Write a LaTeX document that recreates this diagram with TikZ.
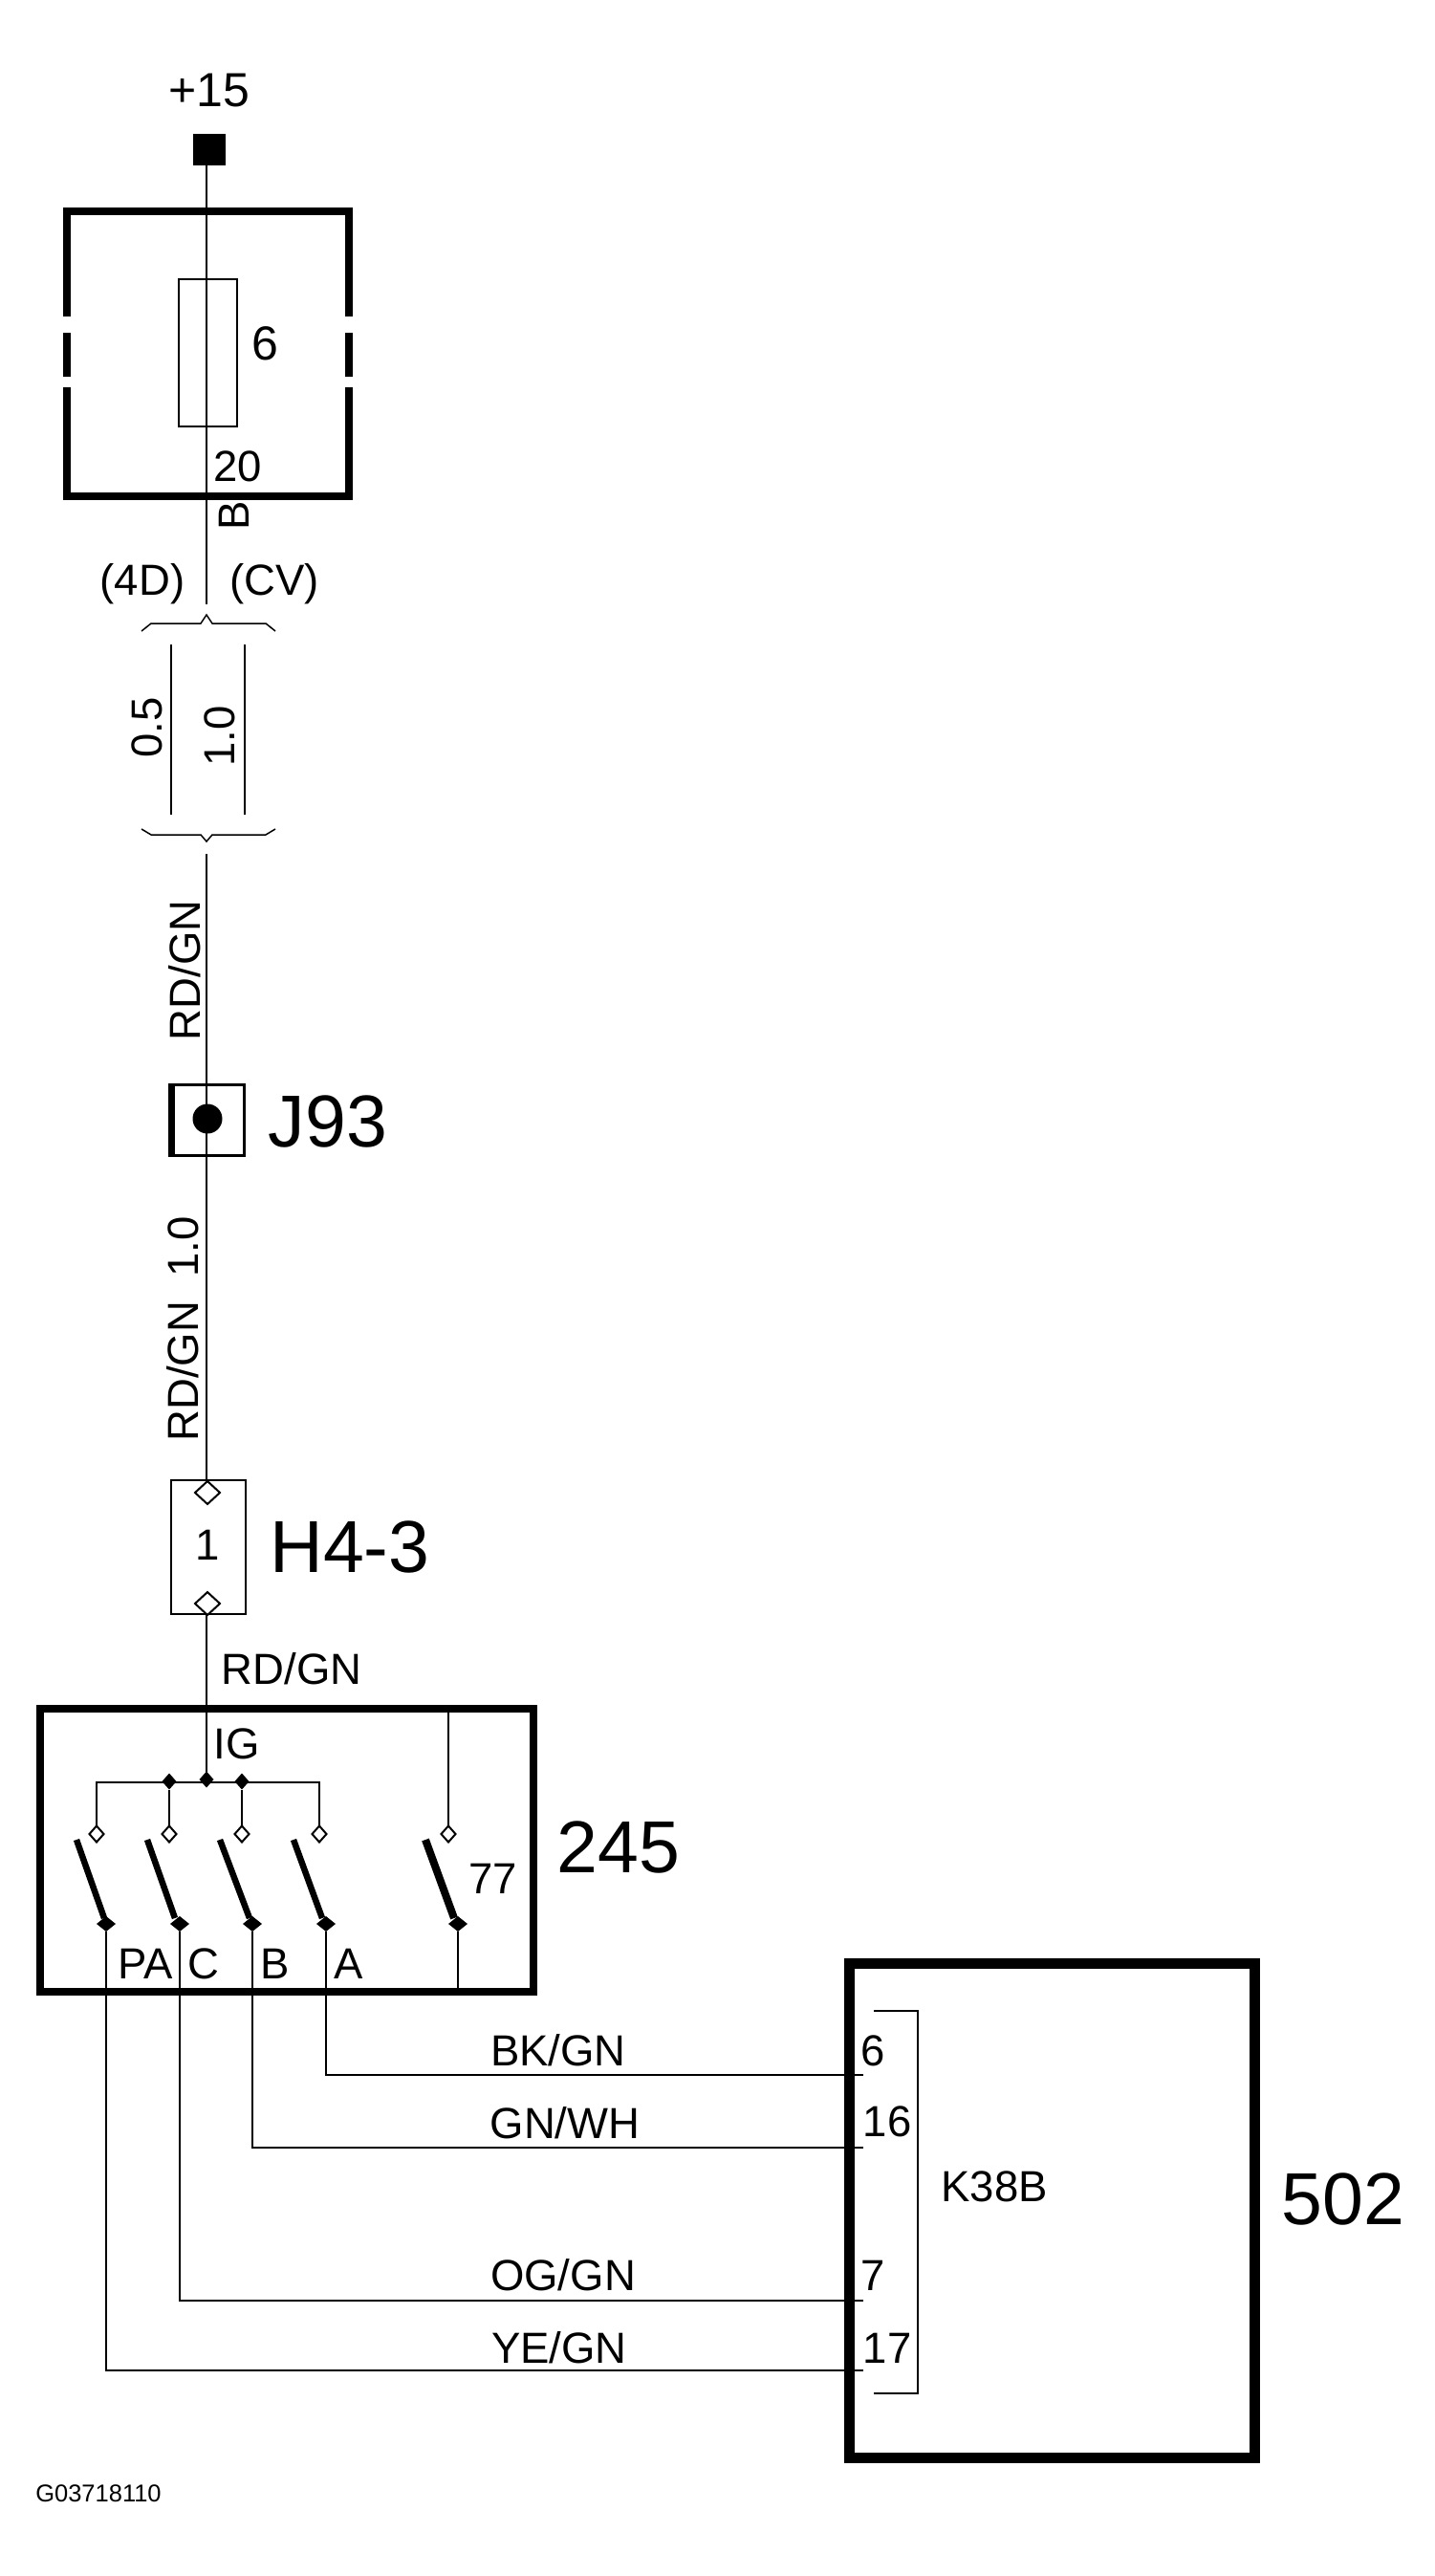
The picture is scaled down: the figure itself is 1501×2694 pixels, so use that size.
\documentclass[tikz,border=0pt]{standalone}
\usepackage{fontspec}
\setmainfont{Liberation Sans}
\usetikzlibrary{shapes.geometric}
\tikzset{
  wire/.style={line width=2pt},
  lab/.style={inner sep=0pt, font=\fontsize{45.5}{45.5}\selectfont},
  biglab/.style={inner sep=0pt, font=\fontsize{77}{77}\selectfont},
  frame/.style={draw, line width=8pt, inner sep=0pt, outer sep=0pt},
  thinbox/.style={draw, line width=2.5pt, inner sep=0pt, outer sep=0pt},
  openpin/.style={diamond, draw, fill=white, line width=2pt, inner sep=0pt, outer sep=0pt, minimum width=15pt, minimum height=17pt},
  solidpin/.style={diamond, fill=black, inner sep=0pt, outer sep=0pt, minimum width=20pt, minimum height=16pt},
  joint/.style={diamond, fill=black, inner sep=0pt, outer sep=0pt, minimum width=15pt, minimum height=17pt},
  blade/.style={line width=6.5pt}
}
\begin{document}
\begin{tikzpicture}[x=1pt,y=-1pt]
\path[use as bounding box, fill=white] (0,0) rectangle (1501,2694);

% supply and fuse
\node[fill=black, inner sep=0pt, outer sep=0pt, minimum width=34pt, minimum height=33pt] (term) at (219,156.5) {};
\node[lab, font=\fontsize{50}{50}\selectfont] (plus) at (219,95) {+15};
\node[thinbox, minimum width=61pt, minimum height=154pt] (fuse) at (217.5,369) {};
\coordinate (wireA) at (216,632);
\coordinate (wireB) at (216,893);
\draw[wire] (term.south -| wireA) -- (wireA);
\draw[line width=8pt] (70,331) -- (70,221) -- (365,221) -- (365,331);
\draw[line width=8pt] (70,405) -- (70,519) -- (365,519) -- (365,405);
\draw[line width=8pt] (70,348) -- (70,394);
\draw[line width=8pt] (365,348) -- (365,394);
\node[lab, font=\fontsize{50}{50}\selectfont] (fusenr) at (277,359) {6};
\node[lab] (amps) at (249,488) {20};
\node[lab, rotate=90] (wireb) at (245,539) {B};
\node[lab] (var4d) at (149,611) {(4D)};
\node[lab] (varcv) at (287,611) {(CV)};

% the two sizes
\draw[line width=1.5pt] (148,660) -- (158,652) -- (210,652) -- (216,643) -- (222,652) -- (278,652) -- (288,660);
\draw[wire] (179,674) -- (179,852);
\draw[wire] (256,674) -- (256,852);
\draw[line width=1.5pt] (148,867) -- (158,873) -- (210,873) -- (216,880) -- (222,873) -- (278,873) -- (288,867);
\node[lab, rotate=90] (size1) at (154,761) {0.5};
\node[lab, rotate=90] (size2) at (230,770) {1.0};
\node[lab, rotate=90] (col1) at (193,1015) {RD/GN};

% splice
\node[draw, line width=3pt, inner sep=0pt, outer sep=0pt, minimum width=78pt, minimum height=74pt] (j93) at (216.5,1171) {};
\draw[line width=7pt] ([xshift=2pt]j93.north west) -- ([xshift=2pt]j93.south west);
\node[lab, rotate=90] (col2) at (191,1390) {RD/GN\ \ 1.0};
\node[biglab] (j93lab) at (343,1173) {J93};

% connector
\node[thinbox, minimum width=78pt, minimum height=140pt] (h43) at (218,1618) {};
\node[openpin, minimum width=26pt, minimum height=24pt] (pintop) at (217,1561) {};
\node[openpin, minimum width=26pt, minimum height=24pt] (pinbot) at (217,1677) {};
\node[lab] (pinnr) at (217,1616) {1};
\node[biglab] (h43lab) at (366,1618) {H4-3};
\draw[wire] (wireB) -- (pintop.north -| wireB);
\node[circle, fill=black, inner sep=0pt, outer sep=0pt, minimum size=31pt] (dot) at (217,1170) {};
\node[lab] (col3) at (305,1745) {RD/GN};

% ignition switch
\node[frame, minimum width=516pt, minimum height=296pt] (sw) at (300,1935) {};
\node[biglab] (swlab) at (647,1932) {245};
\node[lab] (ig) at (248,1824) {IG};
\coordinate (bus) at (216,1864);
\node[joint] (jb) at (177,1863) {};
\node[joint] (jc) at (216,1861) {};
\node[joint] (jd) at (253,1863) {};
\draw[wire] (pinbot.south -| bus) -- (jc);
\foreach \name/\xa/\xb/\xc/\xd in {pa/101/80/109/111, c/177/154/183/188, b/253/230/261/264, a/334/307/337/341}{
  \node[openpin] (top\name) at (\xa,1918) {};
  \node[solidpin] (bot\name) at (\xd,2012) {};
  \draw[blade] (\xb,1924) -- (\xc,2006);
}
\draw[wire] (toppa.north) -- (toppa.north |- bus) -- (topa.north |- bus) -- (topa.north);
\draw[wire] (topc.north) -- (jb);
\draw[wire] (topb.north) -- (jd);
\node[openpin] (top77) at (469,1918) {};
\node[solidpin] (bot77) at (479,2012) {};
\draw[line width=8pt] (445,1924) -- (475,2006);
\draw[wire] (top77.north) -- (top77.north |- sw.north);
\draw[wire] (bot77.south) -- (bot77.south |- sw.south);
\node[lab] (lab77) at (516,1965) {77};
\node[lab] (labpa) at (152,2054) {PA};
\node[lab] (labc) at (213,2054) {C};
\node[lab] (labb) at (288,2054) {B};
\node[lab] (laba) at (365,2054) {A};

% control module
\node[draw, line width=11pt, inner sep=0pt, outer sep=0pt, minimum width=424pt, minimum height=517pt] (mod) at (1100.5,2311.5) {};
\node[biglab] (modlab) at (1405,2300) {502};
\node[lab] (k38b) at (1040,2287) {K38B};
\draw[wire] (914,2103) -- (960,2103) -- (960,2503) -- (914,2503);
\coordinate (p6) at (903,2170);
\coordinate (p16) at (903,2246);
\coordinate (p7) at (903,2406);
\coordinate (p17) at (903,2479);
\draw[wire] (bota.south) |- (p6);
\draw[wire] (botb.south) |- (p16);
\draw[wire] (botc.south) |- (p7);
\draw[wire] (botpa.south) |- (p17);
\node[lab] (n6) at (913,2145) {6};
\node[lab] (n16) at (928,2219) {16};
\node[lab] (n7) at (913,2380) {7};
\node[lab] (n17) at (928,2456) {17};
\node[lab] (bkgn) at (584,2144) {BK/GN};
\node[lab] (gnwh) at (591,2220) {GN/WH};
\node[lab] (oggn) at (589,2379) {OG/GN};
\node[lab] (yegn) at (585,2455) {YE/GN};

\node[inner sep=0pt, font=\fontsize{25.5}{25.5}\selectfont] (fignr) at (103,2608) {G03718110};
\end{tikzpicture}
\end{document}
